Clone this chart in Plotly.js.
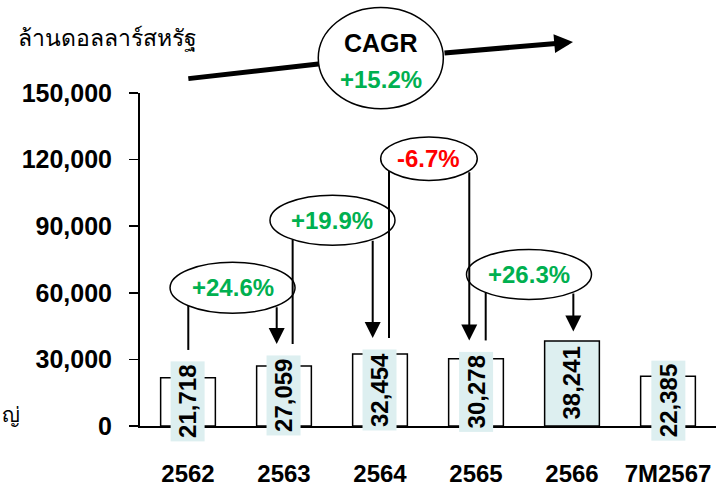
<!DOCTYPE html>
<html>
<head>
<meta charset="utf-8">
<script src="https://cdn.plot.ly/plotly-3.0.1.min.js"></script>
<style>html,body{margin:0;padding:0;background:#fff;}#chart{width:716px;height:487px;}</style>
</head>
<body>
<div id="chart"></div>
<script>
// ---- data ----
const categories = ['2562', '2563', '2564', '2565', '2566', '7M2567'];
const values = [21718, 27059, 32454, 30278, 38241, 22385];
const valueLabels = ['21,718', '27,059', '32,454', '30,278', '38,241', '22,385'];
const growthLabels = ['+24.6%', '+19.9%', '-6.7%', '+26.3%'];
const cagrLabel = '+15.2%';
const yTickVals = [0, 30000, 60000, 90000, 120000, 150000];
const yTickText = ['0', '30,000', '60,000', '90,000', '120,000', '150,000'];
const yTitle = 'ล้านดอลลาร์สหรัฐ';

// ---- styling / layout constants ----
const FONT = 'Liberation Sans, Arial, Helvetica, sans-serif';
const GREEN = '#00B050', RED = '#FF0000', BOXBLUE = '#DDEFF0';
const idx = categories.map((c, i) => i);
const barColors = categories.map((c, i) => i === 4 ? BOXBLUE : '#FFFFFF');

// decoration ellipses (category units / value units)
const ells = [
  {cx: 0.464, cy: 62300, rx: 0.651, ry: 11475},
  {cx: 1.505, cy: 92700, rx: 0.651, ry: 11250},
  {cx: 2.510, cy: 120400, rx: 0.503, ry: 9765},
  {cx: 3.552, cy: 68265, rx: 0.651, ry: 11250}
];
const offL = [0.003, 0.09, 0.094, 0.101];
const offR = [-0.076, -0.076, -0.07, 0.014];
const GAP = 23400;

function ellBottom(e, x) {
  const t = (x - e.cx) / e.rx;
  return e.cy - e.ry * Math.sqrt(Math.max(0, 1 - t * t));
}

const shapes = [];
const annotations = [];

// CAGR decoration (paper coords)
shapes.push({type: 'line', xref: 'paper', yref: 'paper', x0: 0.0839, y0: 1.0432, x1: 0.325, y1: 1.090,
  line: {color: 'black', width: 5}});
shapes.push({type: 'circle', xref: 'paper', yref: 'paper', x0: 0.3095, x1: 0.5266, y0: 0.953, y1: 1.257,
  fillcolor: 'white', line: {color: 'black', width: 1.5}, layer: 'above'});
annotations.push({xref: 'paper', yref: 'paper', x: 0.7517, y: 1.153, axref: 'pixel', ayref: 'pixel',
  ax: -130, ay: 11, text: '', showarrow: true, arrowhead: 2, arrowsize: 0.75, arrowwidth: 5, arrowcolor: 'black'});
annotations.push({xref: 'paper', yref: 'paper', x: 0.4179, y: 1.1505, text: '<b>CAGR</b>', showarrow: false,
  font: {family: FONT, size: 25, color: 'black'}, xanchor: 'center', yanchor: 'middle'});
annotations.push({xref: 'paper', yref: 'paper', x: 0.4179, y: 1.0396, text: '<b>' + cagrLabel + '</b>', showarrow: false,
  font: {family: FONT, size: 24, color: GREEN}, xanchor: 'center', yanchor: 'middle'});

// growth ellipses + connectors
ells.forEach((e, i) => {
  shapes.push({type: 'circle', xref: 'x', yref: 'y', x0: e.cx - e.rx, x1: e.cx + e.rx, y0: e.cy - e.ry, y1: e.cy + e.ry,
    fillcolor: 'white', line: {color: 'black', width: 1.5}, layer: 'above'});
  const xl = idx[i] + offL[i];
  shapes.push({type: 'line', xref: 'x', yref: 'y', x0: xl, x1: xl, y0: values[i] / 2 + GAP, y1: ellBottom(e, xl),
    line: {color: 'black', width: 2}, layer: 'above'});
  const xr = idx[i + 1] + offR[i];
  annotations.push({xref: 'x', yref: 'y', axref: 'x', ayref: 'y', x: xr, y: values[i + 1] / 2 + GAP,
    ax: xr, ay: ellBottom(e, xr), text: '', showarrow: true, arrowhead: 2, arrowsize: 1.6, arrowwidth: 2, arrowcolor: 'black'});
  annotations.push({xref: 'x', yref: 'y', x: e.cx, y: e.cy, text: '<b>' + growthLabels[i] + '</b>', showarrow: false,
    font: {family: FONT, size: 24, color: growthLabels[i].startsWith('-') ? RED : GREEN}, xanchor: 'center', yanchor: 'middle'});
});

// value labels in bars
idx.forEach(i => {
  annotations.push({xref: 'x', yref: 'y', x: i, y: values[i] / 2, text: '<b>' + valueLabels[i] + '</b>', textangle: -90, showarrow: false,
    bgcolor: BOXBLUE, borderpad: 3, font: {family: FONT, size: 24, color: 'black'}, xanchor: 'center', yanchor: 'middle'});
});

// y axis title and clipped side text
annotations.push({xref: 'paper', yref: 'paper', x: -0.216, y: 1.164, xanchor: 'left', yanchor: 'middle', showarrow: false,
  text: yTitle, font: {family: FONT, size: 23, color: 'black'}});
annotations.push({xref: 'paper', yref: 'paper', x: -0.243, y: 0.033, xanchor: 'left', yanchor: 'middle', showarrow: false,
  text: 'ญ่', font: {family: FONT, size: 21, color: 'black'}});

const trace = {
  type: 'bar', x: idx, y: values, width: 0.57,
  marker: {color: barColors, line: {color: 'black', width: 1.5}},
  hoverinfo: 'none'
};

const layout = {
  width: 716, height: 487,
  margin: {l: 140, r: 0, t: 93, b: 61, pad: 0},
  paper_bgcolor: 'white', plot_bgcolor: 'white',
  showlegend: false,
  font: {family: FONT, color: 'black'},
  xaxis: {range: [-0.5, 5.5], tickvals: idx, ticktext: categories.map(c => '<b>' + c + '</b>'),
    showline: true, linecolor: 'black', linewidth: 1.5, ticks: '', showgrid: false, zeroline: false,
    tickfont: {family: FONT, size: 24, color: 'black'}, ticklabelstandoff: 26, fixedrange: true},
  yaxis: {range: [0, 150000], tickvals: yTickVals, ticktext: yTickText.map(t => '<b>' + t + '</b>'),
    showline: true, linecolor: 'black', linewidth: 2, ticks: 'outside', ticklen: 9, tickwidth: 1.5, tickcolor: 'black',
    showgrid: false, zeroline: false, tickfont: {family: FONT, size: 25, color: 'black'}, ticklabelstandoff: 12, fixedrange: true},
  shapes: shapes,
  annotations: annotations
};

Plotly.newPlot('chart', [trace], layout, {displayModeBar: false, staticPlot: true});
</script>
</body>
</html>
